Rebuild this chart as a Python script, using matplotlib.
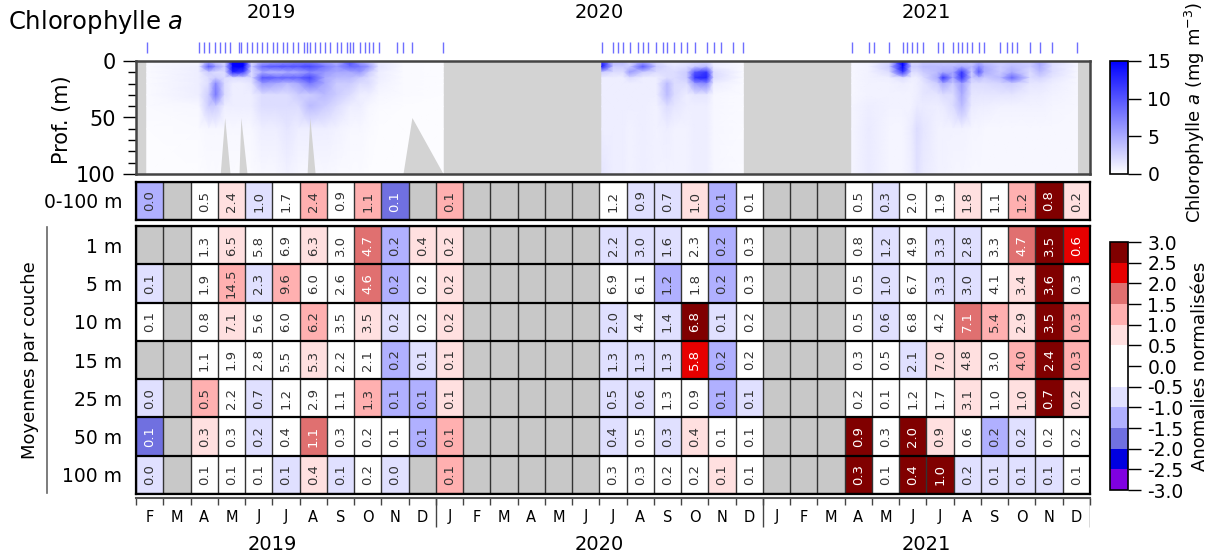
import numpy as np
import matplotlib
matplotlib.use('Agg')
import matplotlib.pyplot as plt
import matplotlib.dates as mdates
import matplotlib.transforms as mtransforms
from matplotlib.colors import ListedColormap, BoundaryNorm, LinearSegmentedColormap, Normalize
from matplotlib.cm import ScalarMappable
from matplotlib.lines import Line2D
from datetime import datetime

plt.rcParams['font.family'] = ['DejaVu Sans']
plt.rcParams['axes.unicode_minus'] = False

nan = np.nan

# ---- month grid (Feb 2019 -> Dec 2021) ----
months = list('FMAMJJASOND') + list('JFMAMJJASOND') * 2
years = [2019, 2020, 2021]
layers = ['1 m', '5 m', '10 m', '15 m', '25 m', '50 m', '100 m']

# monthly means (mg m-3) and normalised anomalies
chl_0_100 = [0.0, nan, 0.5, 2.4, 1.0, 1.7, 2.4, 0.9, 1.1, 0.1, nan,
             0.1, nan, nan, nan, nan, nan, 1.2, 0.9, 0.7, 1.0, 0.1, 0.1,
             nan, nan, nan, 0.5, 0.3, 2.0, 1.9, 1.8, 1.1, 1.2, 0.8, 0.2]
anom_0_100 = [-1.25, nan, 0, 0.75, -0.75, 0, 1.25, 0, 1.25, -1.75, nan,
              1.25, nan, nan, nan, nan, nan, 0, -0.75, -0.75, 0.75, -1.25, 0,
              nan, nan, nan, 0, -0.75, 0, 0, 0.75, 0, 1.25, 2.75, 0.75]

chl_1m = [nan, nan, 1.3, 6.5, 5.8, 6.9, 6.3, 3.0, 4.7, 0.2, 0.4,
          0.2, nan, nan, nan, nan, nan, 2.2, 3.0, 1.6, 2.3, 0.2, 0.3,
          nan, nan, nan, 0.8, 1.2, 4.9, 3.3, 2.8, 3.3, 4.7, 3.5, 0.6]
anom_1m = [nan, nan, 0, 0.75, 0, 0, 0.75, 0, 1.75, -1.25, 0.75,
           0.75, nan, nan, nan, nan, nan, -0.75, -0.75, -0.75, 0, -1.25, 0,
           nan, nan, nan, 0, -0.75, 0, -0.75, -0.75, 0, 1.75, 2.75, 2.25]

chl_5m = [0.1, nan, 1.9, 14.5, 2.3, 9.6, 6.0, 2.6, 4.6, 0.2, 0.2,
          0.2, nan, nan, nan, nan, nan, 6.9, 6.1, 1.2, 1.8, 0.2, 0.3,
          nan, nan, nan, 0.5, 1.0, 6.7, 3.3, 3.0, 4.1, 3.4, 3.6, 0.3]
anom_5m = [-0.75, nan, 0, 1.25, -0.75, 1.25, 0, 0, 1.75, -1.25, 0,
           0.75, nan, nan, nan, nan, nan, 0, 0, -1.25, 0, -1.25, 0,
           nan, nan, nan, 0, -0.75, 0, -0.75, -0.75, 0, 0.75, 2.75, 0]

chl_10m = [0.1, nan, 0.8, 7.1, 5.6, 6.0, 6.2, 3.5, 3.5, 0.2, 0.2,
           0.2, nan, nan, nan, nan, nan, 2.0, 4.4, 1.4, 6.8, 0.1, 0.2,
           nan, nan, nan, 0.5, 0.6, 6.8, 4.2, 7.1, 5.4, 2.9, 3.5, 0.3]
anom_10m = [0, nan, 0, 0.75, 0, 0, 1.25, 0, 0.75, -0.75, 0,
            0.75, nan, nan, nan, nan, nan, -0.75, 0, -0.75, 2.75, -0.75, 0,
            nan, nan, nan, 0, -0.75, 0, 0, 1.75, 1.25, 0.75, 2.75, 1.25]

chl_15m = [nan, nan, 1.1, 1.9, 2.8, 5.5, 5.3, 2.2, 2.1, 0.2, 0.1,
           0.1, nan, nan, nan, nan, nan, 1.3, 1.3, 1.3, 5.8, 0.2, 0.2,
           nan, nan, nan, 0.3, 0.5, 2.1, 7.0, 4.8, 3.0, 4.0, 2.4, 0.3]
anom_15m = [nan, nan, 0, 0, 0, 0, 0.75, 0, 0, -1.25, -0.75,
            0.75, nan, nan, nan, nan, nan, -0.75, -0.75, -0.75, 2.25, -1.25, 0,
            nan, nan, nan, 0, 0, -0.75, 0.75, 0.75, 0, 1.25, 2.75, 1.25]

chl_25m = [0.0, nan, 0.5, 2.2, 0.7, 1.2, 2.9, 1.1, 1.3, 0.1, 0.1,
           0.1, nan, nan, nan, nan, nan, 0.5, 0.6, 1.3, 0.9, 0.1, 0.1,
           nan, nan, nan, 0.2, 0.1, 1.2, 1.7, 3.1, 1.0, 1.0, 0.7, 0.2]
anom_25m = [-0.75, nan, 1.25, 0, -0.75, 0, 0, 0, 1.25, -1.25, -1.25,
            0.75, nan, nan, nan, nan, nan, -0.75, -0.75, 0, 0, -1.25, -0.75,
            nan, nan, nan, 0, 0, 0, 0, 0.75, 0, 0.75, 2.75, 0.75]

chl_50m = [0.1, nan, 0.3, 0.3, 0.2, 0.4, 1.1, 0.3, 0.2, 0.1, 0.1,
           0.1, nan, nan, nan, nan, nan, 0.4, 0.5, 0.3, 0.4, 0.1, 0.1,
           nan, nan, nan, 0.9, 0.3, 2.0, 0.9, 0.6, 0.2, 0.2, 0.2, 0.2]
anom_50m = [-1.75, nan, 0.75, 0, -0.75, 0, 1.75, 0, 0, 0, -1.25,
            1.25, nan, nan, nan, nan, nan, -0.75, 0, -0.75, 0.75, 0, 0,
            nan, nan, nan, 2.75, 0, 2.75, 0.75, 0, -1.25, -0.75, 0, 0]

chl_100m = [0.0, nan, 0.1, 0.1, 0.1, 0.1, 0.4, 0.1, 0.2, 0.0, nan,
            0.1, nan, nan, nan, nan, nan, 0.3, 0.3, 0.2, 0.2, 0.1, 0.1,
            nan, nan, nan, 0.3, 0.1, 0.4, 1.0, 0.2, 0.1, 0.1, 0.1, 0.1]
anom_100m = [-0.75, nan, 0, 0, 0, -0.75, 0.75, -0.75, 0, -0.75, nan,
             1.25, nan, nan, nan, nan, nan, 0, 0, 0, 0, 0.75, 0,
             nan, nan, nan, 2.75, 0, 2.75, 2.75, -0.75, -0.75, -0.75, -0.75, 0]

# ---- sampling casts ----
cast_dates = ['2019-02-13', '2019-04-12', '2019-04-18', '2019-04-23', '2019-04-30', '2019-05-06',
              '2019-05-11', '2019-05-17', '2019-05-27', '2019-05-29', '2019-06-05', '2019-06-10',
              '2019-06-16', '2019-06-22', '2019-06-27', '2019-07-04', '2019-07-08', '2019-07-15',
              '2019-07-20', '2019-07-26', '2019-08-01', '2019-08-08', '2019-08-11', '2019-08-14',
              '2019-08-20', '2019-08-25', '2019-08-31', '2019-09-06', '2019-09-13', '2019-09-18',
              '2019-09-25', '2019-09-28', '2019-10-01', '2019-10-09', '2019-10-15', '2019-10-19',
              '2019-10-24', '2019-10-30', '2019-11-19', '2019-11-26', '2019-12-06', '2020-01-10',
              '2020-07-05', '2020-07-18', '2020-07-23', '2020-07-29', '2020-08-05', '2020-08-14',
              '2020-08-20', '2020-08-26', '2020-09-04', '2020-09-11', '2020-09-16', '2020-09-24',
              '2020-10-01', '2020-10-08', '2020-10-17', '2020-10-30', '2020-11-07', '2020-11-15',
              '2020-11-28', '2020-12-10',
              '2021-04-10', '2021-04-29', '2021-05-05', '2021-05-22', '2021-06-06', '2021-06-11',
              '2021-06-16', '2021-06-22', '2021-06-29', '2021-07-15', '2021-07-21', '2021-08-01',
              '2021-08-07', '2021-08-11', '2021-08-17', '2021-08-22', '2021-08-30', '2021-09-05',
              '2021-09-23', '2021-09-30', '2021-10-06', '2021-10-12', '2021-10-26', '2021-11-06',
              '2021-11-20', '2021-12-18']
shallow_casts = ['2019-05-11', '2019-05-29', '2019-08-14', '2019-12-06']  # sampled to 50 m only

# ---- chlorophyll profiles (mg m-3) at depths prof_depth ----
prof_depth = [0, 5, 10, 15, 20, 30, 40, 60, 100]

prof_dates_2019 = ['2019-02-13', '2019-04-12', '2019-04-23', '2019-05-01', '2019-05-11', '2019-05-20',
                   '2019-06-01', '2019-06-10', '2019-06-22', '2019-07-08', '2019-07-20', '2019-08-01',
                   '2019-08-14', '2019-08-31', '2019-09-13', '2019-09-28', '2019-10-09', '2019-10-19',
                   '2019-10-30', '2019-11-26', '2020-01-10']
prof_chl_2019 = [[0.3, 0.3, 0.3, 0.3, 0.3, 0.3, 0.3, 0.2, 0.2],
                 [0.5, 1, 1, 1, 1, 1, 0.5, 0.3, 0.2],
                 [4, 10, 3, 2, 2, 3, 3, 0.5, 0.3],
                 [2, 6, 2, 3, 7, 8, 3, 0.5, 0.3],
                 [2, 3, 2, 2, 2, 2, 1, 0.5, 0.3],
                 [15, 19, 13, 2, 1, 1, 1, 0.5, 0.3],
                 [15, 19, 11, 2, 1, 1, 1, 0.5, 0.3],
                 [2, 3, 2, 2, 1.5, 1, 1, 0.5, 0.3],
                 [4, 9, 5, 10, 6, 2, 2, 1, 0.5],
                 [5, 10, 4, 9, 5, 2, 2, 1, 0.5],
                 [6, 10, 5, 9, 4, 2, 2, 1.5, 0.8],
                 [7, 10, 5, 9, 5, 3, 2, 1, 0.5],
                 [7, 11, 7, 11, 8, 3, 4, 1, 0.5],
                 [5, 8, 6, 5, 5, 4, 3, 1, 0.5],
                 [4, 6, 5, 4, 3, 3, 2, 0.8, 0.4],
                 [10, 9, 5, 4, 3, 2, 1, 0.5, 0.3],
                 [5, 8, 6, 3, 2, 1, 1, 0.5, 0.3],
                 [3, 6, 3, 2, 2, 1, 0.5, 0.3, 0.2],
                 [1, 1.5, 1, 1, 0.8, 0.5, 0.3, 0.2, 0.2],
                 [0.3, 0.3, 0.3, 0.3, 0.3, 0.3, 0.2, 0.2, 0.2],
                 [0.2, 0.2, 0.2, 0.2, 0.2, 0.2, 0.2, 0.2, 0.2]]

prof_dates_2020 = ['2020-07-05', '2020-07-18', '2020-07-29', '2020-08-05', '2020-08-20', '2020-09-04',
                   '2020-09-16', '2020-09-24', '2020-10-08', '2020-10-17', '2020-10-30', '2020-11-07',
                   '2020-12-10']
prof_chl_2020 = [[12, 14, 3, 1, 1, 1, 1, 1, 1.5],
                 [4, 3, 2, 1, 1, 1, 1, 1, 1],
                 [4, 3, 2, 1, 1, 1, 1, 1, 1],
                 [2, 3, 6, 2, 1, 1, 1, 0.8, 0.8],
                 [4, 10, 3, 1, 1, 1, 1, 1, 1],
                 [2, 3, 2, 1, 1, 1, 0.8, 0.8, 0.8],
                 [1, 2, 2, 2, 4, 4, 2, 1, 0.8],
                 [1, 1.5, 2, 2, 2, 2, 1.5, 0.8, 0.8],
                 [1.5, 2, 3, 3, 2, 1, 1, 0.8, 0.8],
                 [2, 3, 10, 12, 6, 1.5, 1, 1, 1],
                 [2, 4, 12, 13, 7, 1.5, 1, 1, 1],
                 [1, 1, 2, 2, 1, 0.5, 0.5, 0.5, 0.5],
                 [0.3, 0.3, 0.3, 0.3, 0.3, 0.3, 0.3, 0.3, 0.3]]

prof_dates_2021 = ['2021-04-10', '2021-04-29', '2021-05-22', '2021-06-06', '2021-06-16', '2021-06-22',
                   '2021-06-29', '2021-07-15', '2021-07-21', '2021-08-01', '2021-08-11', '2021-08-22',
                   '2021-08-30', '2021-09-05', '2021-09-23', '2021-10-06', '2021-10-26', '2021-11-06',
                   '2021-11-20', '2021-12-18']
prof_chl_2021 = [[0.5, 0.5, 0.5, 0.5, 0.5, 0.5, 0.6, 0.6, 0.6],
                 [0.8, 0.8, 0.8, 0.8, 0.8, 0.8, 1, 1.2, 1.2],
                 [2, 3, 2, 1, 0.8, 0.8, 0.8, 0.6, 0.6],
                 [16, 17, 12, 2, 1, 0.8, 0.8, 0.6, 0.6],
                 [2, 3, 2, 1, 0.8, 0.8, 0.8, 1.2, 1],
                 [2, 3, 2, 1, 1, 1, 1.2, 2, 1.8],
                 [3, 4, 3, 2, 1.5, 1.5, 1.2, 1.5, 1.2],
                 [3, 4, 4, 5, 3, 1.5, 1, 0.8, 0.8],
                 [3, 4, 5, 12, 5, 2, 1.2, 0.8, 0.8],
                 [3, 4, 5, 5, 3, 2, 2, 0.8, 0.6],
                 [3, 5, 12, 12, 6, 5, 4, 0.8, 0.6],
                 [3, 4, 3, 3, 2, 1.5, 1.2, 0.6, 0.5],
                 [4, 7, 10, 4, 2, 1.5, 1, 0.6, 0.5],
                 [3, 5, 5, 3, 2, 1.5, 1, 0.5, 0.5],
                 [3, 3, 3, 4, 2.5, 1.5, 0.8, 0.5, 0.5],
                 [3, 4, 5, 9, 3, 1.5, 0.8, 0.5, 0.5],
                 [3, 3, 2, 2, 1.5, 1, 0.8, 0.5, 0.5],
                 [5, 5, 4, 2.5, 1.5, 1, 0.8, 0.5, 0.5],
                 [2, 2, 2, 1.5, 1, 0.8, 0.6, 0.5, 0.5],
                 [0.5, 0.5, 0.5, 0.5, 0.5, 0.5, 0.5, 0.5, 0.5]]

# anomaly classes
anom_bounds = [-3, -2.5, -2, -1.5, -1, -0.5, 0.5, 1, 1.5, 2, 2.5, 3]
anom_colors = ['#8000E0', '#0000E0', '#7070E0', '#B0B0FF', '#E0E0FF', '#FFFFFF',
               '#FFE0E0', '#FFB0B0', '#E07070', '#E60000', '#800000']


def dnum(dates):
    return mdates.date2num([datetime.strptime(d, '%Y-%m-%d') for d in dates])


W, H = 1212, 558
fig = plt.figure(figsize=(W / 100, H / 100), dpi=100)
L, R = 136 / W, 954 / W

grey_cell = '#C8C8C8'
grey_prof = '#D3D3D3'
cmap_chl = LinearSegmentedColormap.from_list('chl', ['#FFFFFF', '#0000FF'])
cmap_anom = ListedColormap(anom_colors)
cmap_anom.set_bad(grey_cell)
norm_anom = BoundaryNorm(anom_bounds, cmap_anom.N)

# ---- depth / time section ----
ax_p = fig.add_axes([L, 1 - 174 / H, R, 113 / H])
ax_p.set_facecolor(grey_prof)
for dts, z in [(prof_dates_2019, prof_chl_2019), (prof_dates_2020, prof_chl_2020),
               (prof_dates_2021, prof_chl_2021)]:
    ax_p.pcolormesh(dnum(dts), prof_depth, np.array(z).T, shading='gouraud',
                    cmap=cmap_chl, vmin=0, vmax=15)

xc = dnum(cast_dates)
maxdepth = np.array([50 if d in shallow_casts else 100 for d in cast_dates])
ax_p.fill_between(xc, maxdepth, 100, color=grey_prof, lw=0)

ax_p.set_xlim(mdates.date2num(datetime(2019, 2, 1)), mdates.date2num(datetime(2022, 1, 1)))
ax_p.set_ylim(100, 0)
ax_p.set_xticks([])
ax_p.set_yticks([0, 50, 100])
ax_p.yaxis.set_minor_locator(plt.MultipleLocator(10))
ax_p.tick_params(axis='y', which='major', length=9.5, width=1, labelsize=15, pad=5)
ax_p.tick_params(axis='y', which='minor', length=6, width=1)
for s in ax_p.spines.values():
    s.set_linewidth(1.8)
    s.set_color('#444444')

trans = mtransforms.blended_transform_factory(ax_p.transData, ax_p.transAxes)
ax_p.vlines(xc, 1.07, 1.17, transform=trans, colors='#6F6FFF', lw=1, clip_on=False)
for y in years:
    ax_p.text(mdates.date2num(datetime(y, 7, 2)), 1.43, str(y), transform=trans,
              ha='center', va='center', fontsize=14)

fig.text(8 / W, 1 - 22 / H, 'Chlorophylle $a$', fontsize=17.5, ha='left', va='center')
fig.text(62 / W, 1 - 120 / H, 'Prof. (m)', fontsize=15, rotation=90, ha='center', va='center')


# ---- monthly anomaly tables ----
def draw_cells(ax, vals, anoms, labels):
    vals = np.array(vals, dtype=float)
    anoms = np.array(anoms, dtype=float)
    nr, nc = vals.shape
    ax.set_facecolor(grey_cell)
    ax.pcolormesh(np.arange(nc + 1), np.arange(nr + 1), np.ma.masked_invalid(anoms),
                  cmap=cmap_anom, norm=norm_anom)
    ax.vlines(np.arange(nc + 1), 0, nr, colors='#333333', lw=1)
    ax.hlines(np.arange(nr + 1), 0, nc, colors='black', lw=1.6)
    for i in range(nr):
        for j in range(nc):
            if np.isnan(vals[i, j]):
                continue
            col = 'white' if abs(anoms[i, j]) >= 1.5 else '#333333'
            ax.text(j + 0.5, i + 0.5, f'{vals[i, j]:.1f}', rotation=90, ha='center',
                    va='center', fontsize=9.5, color=col)
    ax.set_xlim(0, nc)
    ax.set_ylim(nr, 0)
    ax.set_xticks([])
    ax.set_yticks(np.arange(nr) + 0.5, labels)
    ax.tick_params(axis='y', length=0, pad=10, labelsize=13.5)
    for s in ax.spines.values():
        s.set_linewidth(1.6)


ax_t = fig.add_axes([L, 1 - 220 / H, R, 38 / H])
draw_cells(ax_t, [chl_0_100], [anom_0_100], ['0-100 m'])

ax_l = fig.add_axes([L, 1 - 494 / H, R, 268 / H])
draw_cells(ax_l, [chl_1m, chl_5m, chl_10m, chl_15m, chl_25m, chl_50m, chl_100m],
           [anom_1m, anom_5m, anom_10m, anom_15m, anom_25m, anom_50m, anom_100m], layers)

fig.text(30 / W, 1 - 360 / H, 'Moyennes par couche', fontsize=13, rotation=90,
         ha='center', va='center')
fig.add_artist(Line2D([47 / W, 47 / W], [1 - 227 / H, 1 - 493 / H], color='#666666', lw=1.2))

# ---- month axis ----
ax_m = fig.add_axes([L, 1 - 528 / H, R, 30 / H])
ax_m.set_xlim(0, len(months))
ax_m.set_ylim(30, 0)
ax_m.patch.set_alpha(0)
for k in ['left', 'right', 'bottom']:
    ax_m.spines[k].set_visible(False)
ax_m.spines['top'].set_color('#555555')
ax_m.spines['top'].set_linewidth(1.5)
ax_m.xaxis.tick_top()
ax_m.set_xticks(np.arange(len(months) + 1))
ax_m.tick_params(axis='x', direction='in', length=5, width=1, color='#444444',
                 labeltop=False, labelbottom=False)
ax_m.set_yticks([])
year_edges = [i for i in range(1, len(months)) if months[i] == 'J' and months[i - 1] == 'D']
year_edges.append(len(months))
ax_m.vlines(year_edges, 0, 29, colors='#444444', lw=1)
for i, m in enumerate(months):
    ax_m.text(i + 0.5, 19, m, ha='center', va='center', fontsize=10.5)
for y, e in zip(years, year_edges):
    ax_m.text(e - 6, 47, str(y), ha='center', va='center', fontsize=14, clip_on=False)

# ---- colour bars ----
cax1 = fig.add_axes([1110 / W, 1 - 174 / H, 18 / W, 113 / H])
cb1 = fig.colorbar(ScalarMappable(norm=Normalize(0, 15), cmap=cmap_chl), cax=cax1)
cb1.set_ticks([0, 5, 10, 15])
cb1.ax.tick_params(length=9, width=1, labelsize=13.5, pad=5)
cb1.outline.set_linewidth(1.2)
fig.text(1195 / W, 1 - 112 / H, 'Chlorophylle $a$ (mg m$^{-3}$)', fontsize=13,
         rotation=90, ha='center', va='center')

cax2 = fig.add_axes([1110 / W, 1 - 490 / H, 18 / W, 248 / H])
cb2 = fig.colorbar(ScalarMappable(norm=norm_anom, cmap=cmap_anom), cax=cax2,
                   spacing='proportional')
cb2.set_ticks(np.arange(-3, 3.01, 0.5))
cb2.ax.set_yticklabels([f'{t:.1f}' for t in np.arange(-3, 3.01, 0.5)])
cb2.ax.tick_params(length=9, width=1, labelsize=13.5, pad=5)
cb2.outline.set_linewidth(1.2)
fig.text(1200 / W, 1 - 366 / H, 'Anomalies normalisées', fontsize=13,
         rotation=90, ha='center', va='center')

fig.savefig('out.png', dpi=100)
